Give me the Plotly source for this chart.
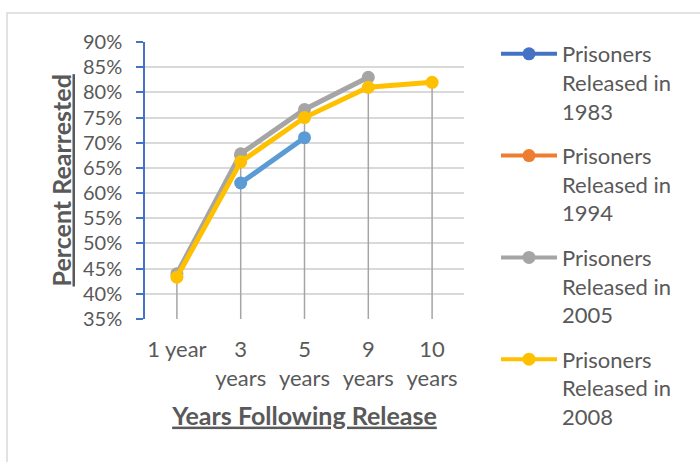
import plotly.graph_objects as go

categories = ["1 year", "3<br>years", "5<br>years", "9<br>years", "10<br>years"]
tick_pos = [0, 1, 2, 3, 4]
rel_1983 = [None, 62, 71, None, None]
rel_1994 = [None, 67.5, None, None, None]
rel_2005 = [44, 67.8, 76.6, 83, None]
rel_2008 = [43.3, 66.2, 75, 81, 82]
y_ticks = [35, 40, 45, 50, 55, 60, 65, 70, 75, 80, 85, 90]
y_labels = [f"{v}%" for v in y_ticks]

FONT = "Lato"
TXT = "#595959"
FS = 22
TFS = 25

W, H = 700, 462
L, R, T, B = 145, 236, 42, 143
pw, ph = W - L - R, H - T - B

fig = go.Figure()

# drop lines from the highest value to the axis floor
all_series = [rel_1983, rel_1994, rel_2005, rel_2008]
dx, dy = [], []
for i in tick_pos:
    vals = [s[i] for s in all_series if s[i] is not None]
    if vals:
        dx += [i, i, None]
        dy += [y_ticks[0], max(vals), None]
fig.add_trace(go.Scatter(x=dx, y=dy, mode="lines", line=dict(color="#A5A5A5", width=1.5),
                         showlegend=False, hoverinfo="skip"))

series = [
    ("Prisoners<br>Released in<br>1983", rel_1983, "#5B9BD5", "#4472C4"),
    ("Prisoners<br>Released in<br>1994", rel_1994, "#ED7D31", "#ED7D31"),
    ("Prisoners<br>Released in<br>2005", rel_2005, "#A5A5A5", "#A5A5A5"),
    ("Prisoners<br>Released in<br>2008", rel_2008, "#FFC000", "#FFC000"),
]
for k, (name, vals, col, lcol) in enumerate(series):
    fig.add_trace(go.Scatter(x=tick_pos, y=vals, mode="lines+markers", name=name,
                             line=dict(color=col, width=5), marker=dict(color=col, size=13),
                             showlegend=False, connectgaps=False))
for k, (name, vals, col, lcol) in enumerate(series):
    fig.add_trace(go.Scatter(x=[None], y=[None], mode="lines+markers", name=name,
                             legendgroup=str(k),
                             line=dict(color=lcol, width=4), marker=dict(color=lcol, size=13)))

fig.update_layout(
    width=W, height=H,
    margin=dict(l=L, r=R, t=T, b=B, autoexpand=False),
    paper_bgcolor="white", plot_bgcolor="white",
    font=dict(family=FONT, size=FS, color=TXT),
    xaxis=dict(range=[-0.5, 4.5], tickvals=tick_pos, ticktext=categories,
               showgrid=False, zeroline=False, showline=False, ticks="",
               ticklabelstandoff=15,
               title=dict(text="<b><u>Years Following Release</u></b>", standoff=17,
                          font=dict(size=TFS, color=TXT))),
    yaxis=dict(range=[35, 90], tickvals=y_ticks, ticktext=y_labels,
               tickfont=dict(size=20, color=TXT),
               showgrid=True, gridcolor="#D9D9D9", gridwidth=1.5, zeroline=False,
               showline=True, linecolor="#4472C4", linewidth=1.5,
               ticks="outside", ticklen=7, tickcolor="#4472C4", tickwidth=1.5,
               ticklabelstandoff=10),
    annotations=[dict(text="<b><u>Percent Rearrested</u></b>", textangle=-90,
                      xref="paper", yref="paper", x=(60 - L) / pw, y=0.5,
                      xanchor="center", yanchor="middle", showarrow=False,
                      font=dict(size=TFS, color=TXT, family=FONT))],
    legend=dict(x=(496 - L) / pw, y=1 + (T - 33) / ph, xanchor="left", yanchor="top",
                traceorder="grouped", tracegroupgap=13, itemwidth=56, valign="top",
                maxheight=460,
                font=dict(family=FONT, size=FS, color=TXT), bgcolor="rgba(0,0,0,0)"),
    shapes=[dict(type="rect", xref="paper", yref="paper",
                 x0=(7 - L) / pw, x1=(720 - L) / pw,
                 y0=1 - (480 - T) / ph, y1=1 + (T - 13) / ph,
                 line=dict(color="#D9D9D9", width=1.5), layer="below")],
)

fig.write_html("out.html")
